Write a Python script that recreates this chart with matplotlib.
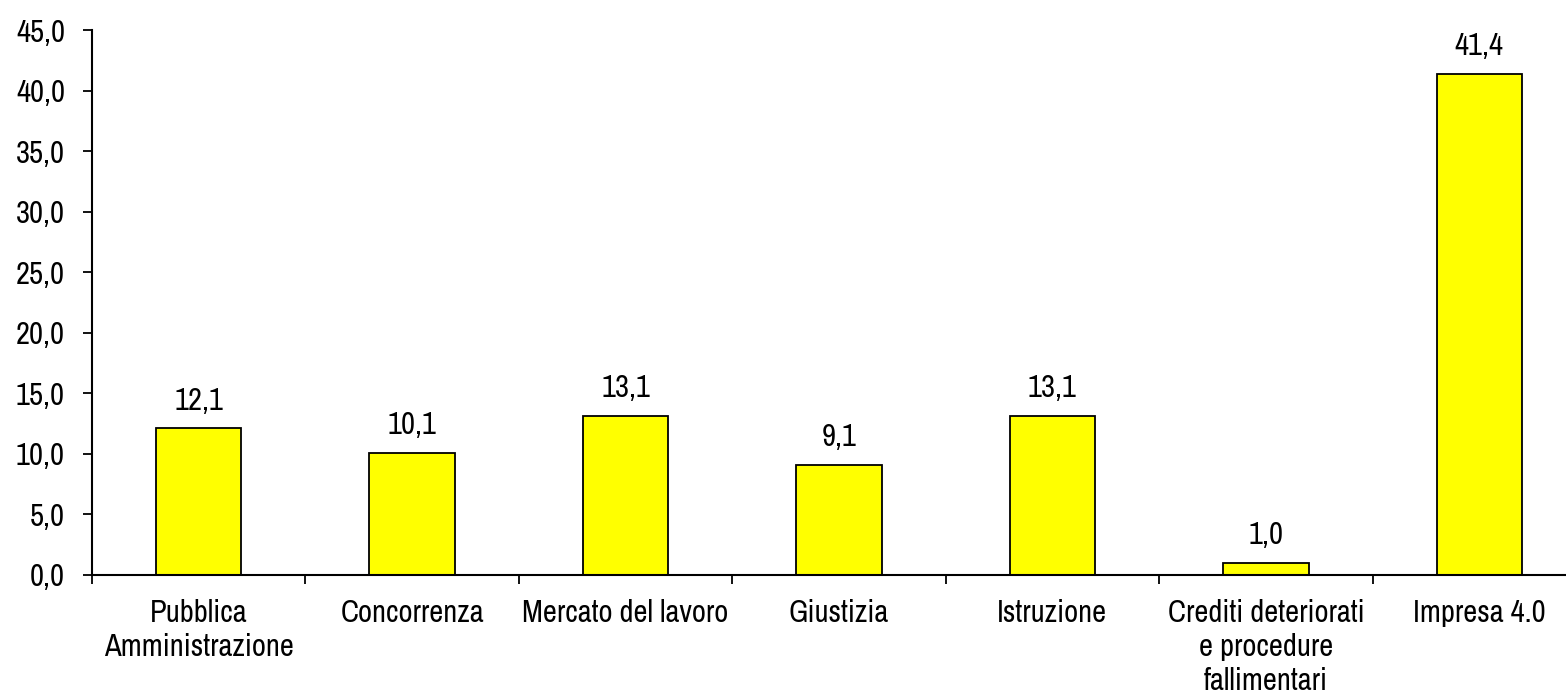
import matplotlib
matplotlib.use("Agg")
import matplotlib.pyplot as plt
from matplotlib.ticker import FuncFormatter, FixedLocator

plt.rcParams['font.family'] = ['Archivo Narrow', 'Liberation Sans', 'DejaVu Sans']

categorie = ["Pubblica\nAmministrazione", "Concorrenza", "Mercato del lavoro",
             "Giustizia", "Istruzione",
             "Crediti deteriorati\ne procedure\nfallimentari", "Impresa 4.0"]
valori = [12.1, 10.1, 13.1, 9.1, 13.1, 1.0, 41.4]

fig = plt.figure(figsize=(15.66, 6.98), dpi=100)
ax = fig.add_axes([92 / 1566, 1 - 575 / 698, 1494 / 1566, 545 / 698])

x = range(len(valori))
ax.bar(x, valori, width=0.40, color="#FFFF00", edgecolor="black", linewidth=1.3)

for xi, v in zip(x, valori):
    ax.text(xi, v + 1.15, f"{v:.1f}".replace(".", ","), ha="center", va="bottom",
            fontsize=22)

ax.set_xlim(-0.5, len(valori) - 0.5)
ax.set_ylim(0, 45)
ax.set_yticks(range(0, 46, 5))
ax.yaxis.set_major_formatter(FuncFormatter(lambda v, p: f"{v:.1f}".replace(".", ",")))

# etichette al centro, tacche ai confini delle categorie
ax.set_xticks(list(x))
ax.set_xticklabels(categorie, fontsize=22, linespacing=1.27)
ax.tick_params(axis="x", which="major", length=0, pad=17)
ax.xaxis.set_minor_locator(FixedLocator([i - 0.5 for i in range(len(valori) + 1)]))
ax.tick_params(axis="x", which="minor", length=6.5, width=1.3, direction="out")
ax.tick_params(axis="y", length=6.5, width=1.3, direction="out", labelsize=22, pad=13)

for s in ["top", "right"]:
    ax.spines[s].set_visible(False)
ax.spines["left"].set_linewidth(1.5)
ax.spines["bottom"].set_linewidth(1.5)

fig.savefig("out.png", dpi=100)
